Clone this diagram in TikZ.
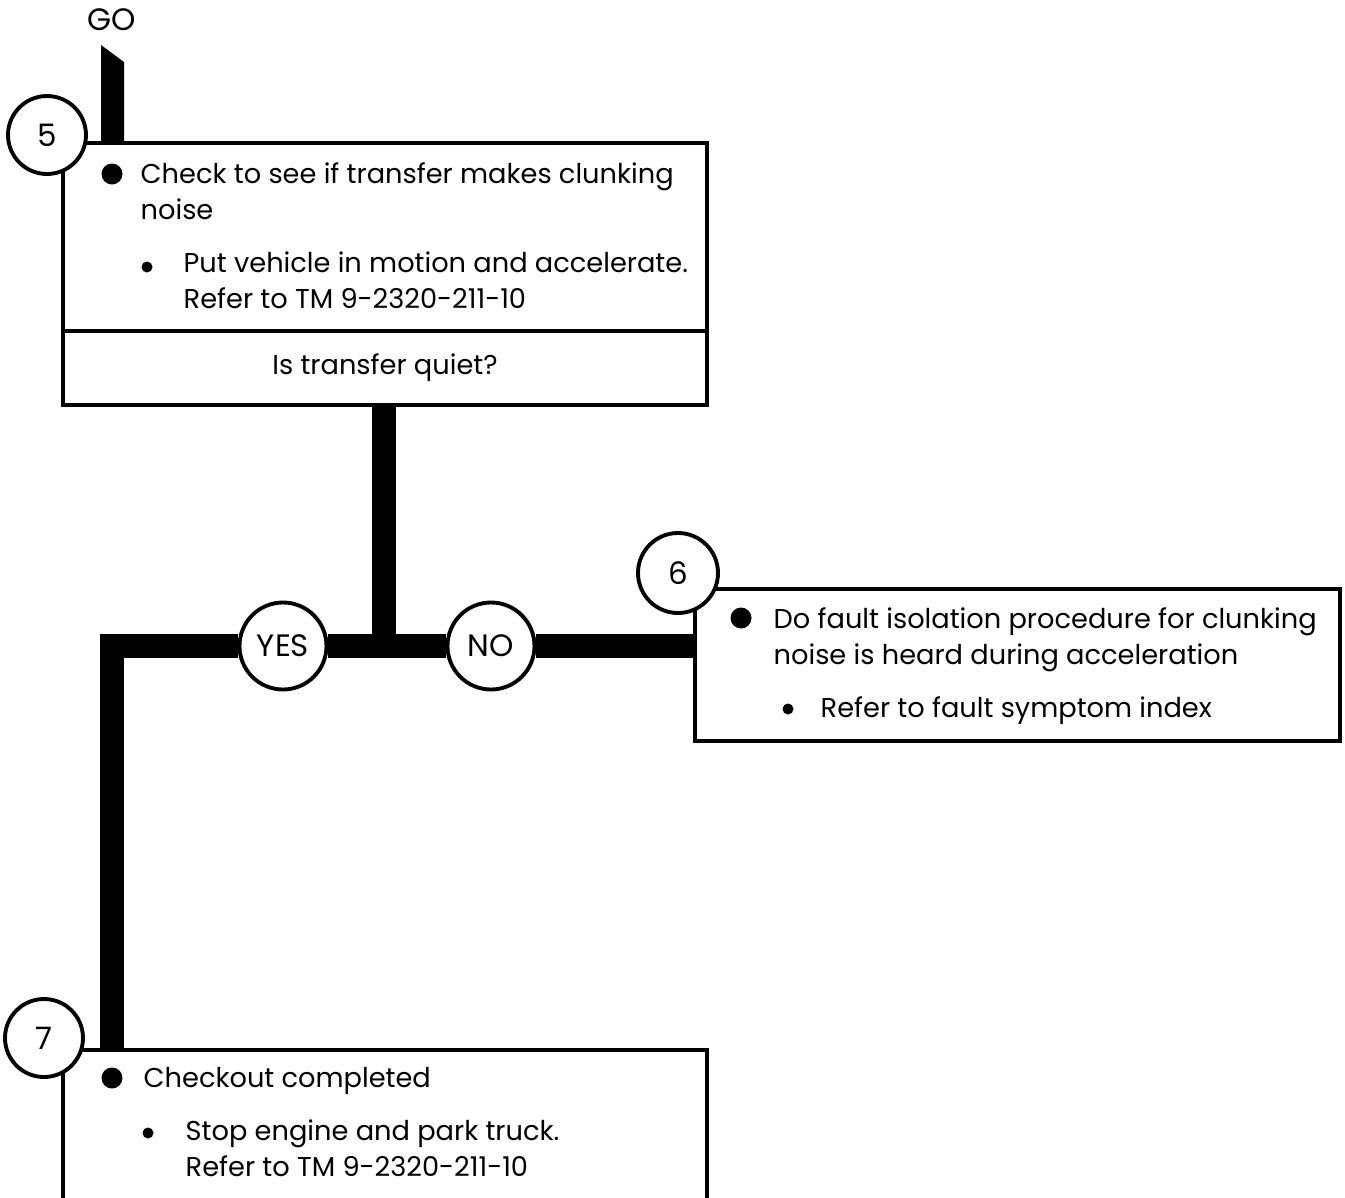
\documentclass[tikz,border=0pt]{standalone}
\usepackage{fontspec}
\setmainfont{Poppins}
\usetikzlibrary{positioning}
\newcommand\cardtext{\fontsize{7.75pt}{10.1pt}\selectfont}
\newcommand\tagtext{\fontsize{8.8pt}{10pt}\selectfont}

\begin{document}
\begin{tikzpicture}[
  stepno/.style={circle,draw,line width=1.1pt,fill=white,minimum size=7.8mm,inner sep=0pt,font=\tagtext},
  answer/.style={circle,draw,line width=1.1pt,fill=white,minimum size=8.7mm,inner sep=0pt,font=\tagtext},
  panel/.style={rectangle,draw,line width=0.9pt,minimum width=6.44cm,inner sep=0pt,font=\cardtext},
  txt/.style={anchor=base west,inner sep=0pt,align=left,font=\cardtext},
  bigdot/.style={circle,fill,minimum size=2.1mm,inner sep=0pt},
  smalldot/.style={circle,fill,minimum size=1.1mm,inner sep=0pt},
  flow/.style={line width=2.4mm}
]
\useasboundingbox (0,0) rectangle (13.45,-11.98);
\node[font=\tagtext,inner sep=0pt] (go) at (1.12,-0.20) {GO};
\coordinate (gotail) at (1.125,-0.45);
\coordinate (split) at (3.84,-6.46);
\coordinate (stem7) at (1.12,-10.50);
\node[panel,minimum height=1.88cm] (box5) at (3.85,-2.37) {};
\node[panel,minimum height=0.74cm] (quiet) at (3.85,-3.68) {Is transfer quiet?};
\node[panel,minimum width=6.45cm,minimum height=1.52cm] (box6) at (10.175,-6.65) {};
\node[panel,minimum height=2.0cm] (box7) at (3.85,-11.5) {};
\node[stepno] (s5) at (0.47,-1.35) {5};
\node[stepno,minimum size=8.0mm] (s6) at (6.78,-5.73) {6};
\node[stepno] (s7) at (0.44,-10.38) {7};
\node[answer] (yes) at (2.83,-6.46) {YES};
\node[answer] (no) at (4.91,-6.46) {NO};
\fill ([xshift=-1.15mm]gotail) -- ([shift={(1.15mm,-1.7mm)}]gotail)
  -- ([xshift=1.15mm]box5.north -| gotail) -- ([xshift=-1.15mm]box5.north -| gotail) -- cycle;
\draw[flow] (quiet.south -| split) -- (split);
\draw[flow] (yes.east) -- (no.west);
\draw[flow] (no.east) -- (box6.west |- no);
\draw[flow] (yes.west) -| (stem7);
\node[bigdot] (d5a) at (1.12,-1.74) {};
\node[txt] (t5a) at (1.40,-2.19) {Check to see if transfer makes clunking\\noise};
\node[smalldot] (d5b) at (1.47,-2.67) {};
\node[txt] (t5b) at (1.83,-3.08) {Put vehicle in motion and accelerate.\\Refer to TM 9-2320-211-10};
\node[bigdot] (d6a) at (7.41,-6.18) {};
\node[txt] (t6a) at (7.73,-6.64) {Do fault isolation procedure for clunking\\noise is heard during acceleration};
\node[smalldot] (d6b) at (7.88,-7.09) {};
\node[txt] (t6b) at (8.20,-7.17) {Refer to fault symptom index};
\node[bigdot] (d7a) at (1.12,-10.78) {};
\node[txt] (t7a) at (1.43,-10.87) {Checkout completed};
\node[smalldot] (d7b) at (1.48,-11.33) {};
\node[txt] (t7b) at (1.85,-11.76) {Stop engine and park truck.\\Refer to TM 9-2320-211-10};
\end{tikzpicture}
\end{document}
